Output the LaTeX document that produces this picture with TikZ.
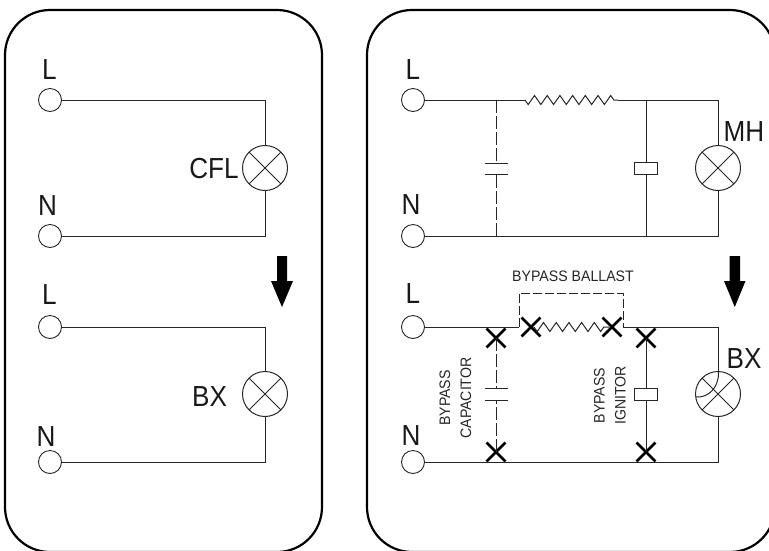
\documentclass[tikz,border=0pt]{standalone}
\usepackage{fontspec}
\setmainfont{Liberation Sans}
\newfontfamily\narrowbig[FakeStretch=0.9]{Liberation Sans}
\newfontfamily\narrowsmall[FakeStretch=0.93]{Liberation Sans}
\usetikzlibrary{shapes.misc,decorations.pathmorphing}
\tikzset{
  panel/.style={draw=black,line width=2.2pt,rounded corners=45pt},
  wire/.style={draw=black!85,line width=1pt},
  dashwire/.style={wire,dash pattern=on 13pt off 3pt},
  ballastdash/.style={wire,dash pattern=on 9pt off 3pt},
  terminal/.style={circle,draw=black!85,line width=0.9pt,minimum size=23pt,inner sep=0pt},
  lamp/.style={circle,draw=black!85,line width=1pt,minimum size=45pt,inner sep=0pt,
    path picture={\draw[black!85,line width=1pt] (path picture bounding box.north west)--(path picture bounding box.south east)
      (path picture bounding box.north east)--(path picture bounding box.south west);}},
  bigtext/.style={font=\narrowbig\fontsize{29}{29}\selectfont,inner sep=0pt,text=black!90},
  smalltext/.style={font=\narrowsmall\fontsize{15.2}{21}\selectfont,inner sep=0pt,text=black!85,align=center},
  xmark/.style={cross out,draw=black,line width=2.8pt,minimum size=16pt,inner sep=0pt},
  ignitor/.style={rectangle,draw=black!85,line width=1pt,minimum width=23pt,minimum height=12pt,inner sep=0pt,fill=white},
  coil/.style={wire,decorate,decoration={zigzag,segment length=12.7pt,amplitude=4.5pt,mirror}},
  plate/.style={wire},
  bigarrow/.style={fill=black}
}
\begin{document}
\begin{tikzpicture}[x=1pt,y=-1pt]
\useasboundingbox (0,0) rectangle (769,550);
\clip (0,0) rectangle (769,550);
% panels
\draw[panel] (5,10) rectangle (322,552);
\draw[panel] (367,10) rectangle (775,552);

% ---- left, upper
\node[terminal] (aL) at (50,100) {};
\node[terminal] (aN) at (50,236) {};
\node[lamp] (aLamp) at (265,168) {};
\node[bigtext] at (49.5,69.5) (aLt) {L};
\node[bigtext] at (47.5,205.5) (aNt) {N};
\node[bigtext] at (214,169) (aCt) {CFL};
\draw[wire] (aL.east) -| (aLamp.north);
\draw[wire] (aN.east) -| (aLamp.south);

% ---- left, lower
\node[terminal] (bL) at (50,327) {};
\node[terminal] (bN) at (50,462) {};
\node[lamp] (bLamp) at (265,394) {};
\node[bigtext] at (49.5,294.5) (bLt) {L};
\node[bigtext] at (46,436.5) (bNt) {N};
\node[bigtext] at (209.5,396.5) (bCt) {BX};
\draw[wire] (bL.east) -| (bLamp.north);
\draw[wire] (bN.east) -| (bLamp.south);

% ---- right, upper
\node[terminal] (cL) at (413,100) {};
\node[terminal] (cN) at (413,236) {};
\node[lamp] (cLamp) at (718,168) {};
\node[bigtext] at (413,70) (cLt) {L};
\node[bigtext] at (411,205) (cNt) {N};
\node[bigtext] at (744,132) (cMt) {MH};
\node[ignitor] (cIg) at (646,168) {};
\coordinate (cCoilA) at (525,100);
\coordinate (cCoilB) at (618,100);
\coordinate (cJ1) at (496,100);
\coordinate (cJ2) at (496,236);
\coordinate (cJ3) at (646,100);
\coordinate (cJ4) at (646,236);
\coordinate (cCapT) at (496,163);
\coordinate (cCapB) at (496,174);
\draw[wire] (cL.east) -- (cCoilA);
\draw[coil] (cCoilA) -- (cCoilB);
\draw[wire] (cCoilB) -| (cLamp.north);
\draw[wire] (cN.east) -| (cLamp.south);
\draw[dashwire] (cJ1) -- (cCapT);
\draw[dashwire] (cJ2) -- (cCapB);
\draw[plate] ([xshift=-11.5pt]cCapT) -- ([xshift=11.5pt]cCapT);
\draw[plate] ([xshift=-11.5pt]cCapB) -- ([xshift=11.5pt]cCapB);
\draw[wire] (cJ3) -- (cIg.north);
\draw[wire] (cIg.south) -- (cJ4);

% ---- right, lower
\node[terminal] (dL) at (413,327) {};
\node[terminal] (dN) at (413,462) {};
\node[lamp] (dLamp) at (718,394) {};
\node[bigtext] at (413,293.5) (dLt) {L};
\node[bigtext] at (411,436) (dNt) {N};
\node[bigtext] at (744,358.5) (dMt) {BX};
\node[ignitor] (dIg) at (646,394) {};
\node[xmark] (x1) at (496,338) {};
\node[xmark] (x2) at (496,452) {};
\node[xmark] (x3) at (646,338) {};
\node[xmark] (x4) at (646,452) {};
\node[xmark] (x5) at (531,327) {};
\node[xmark] (x6) at (612,327) {};
\coordinate (dBa) at (519,327);
\coordinate (dBb) at (623,327);
\coordinate (dBc) at (519,293);
\coordinate (dBd) at (623,293);
\coordinate (dCapT) at (496,388);
\coordinate (dCapB) at (496,400);
\coordinate (dCoilA) at (534,327);
\coordinate (dCoilB) at (609,327);
\draw[wire] (dL.east) -- (dBa);
\draw[wire] (dBb) -| (dLamp.north);
\draw[wire] (dN.east) -| (dLamp.south);
\draw[ballastdash] (dBa) -- (dBc) -- (dBd) -- (dBb);
\draw[coil] (dCoilA) -- (dCoilB);
\draw[dashwire] (x1.center) -- (dCapT);
\draw[dashwire] (x2.center) -- (dCapB);
\draw[plate] ([xshift=-11.5pt]dCapT) -- ([xshift=11.5pt]dCapT);
\draw[plate] ([xshift=-11.5pt]dCapB) -- ([xshift=11.5pt]dCapB);
\draw[wire] (x3.center) -- (dIg.north);
\draw[wire] (dIg.south) -- (x4.center);
\draw[wire] (718.5,372) .. controls (719,388) and (708,398) .. (696,397);
\node[smalltext] (t1) at (573,276) {BYPASS BALLAST};
\node[smalltext,rotate=90] (t2) at (455.5,398) {BYPASS\\CAPACITOR};
\node[smalltext,rotate=90] (t3) at (610,395.5) {BYPASS\\IGNITOR};

% ---- arrows
\fill[bigarrow] (277,256) -- (287,256) -- (287,281) -- (293,281) -- (282,307) -- (271,281) -- (277,281) -- cycle;
\fill[bigarrow] (729.5,256) -- (740,256) -- (740,281) -- (745.5,281) -- (734.75,307) -- (724,281) -- (729.5,281) -- cycle;
\end{tikzpicture}
\end{document}
